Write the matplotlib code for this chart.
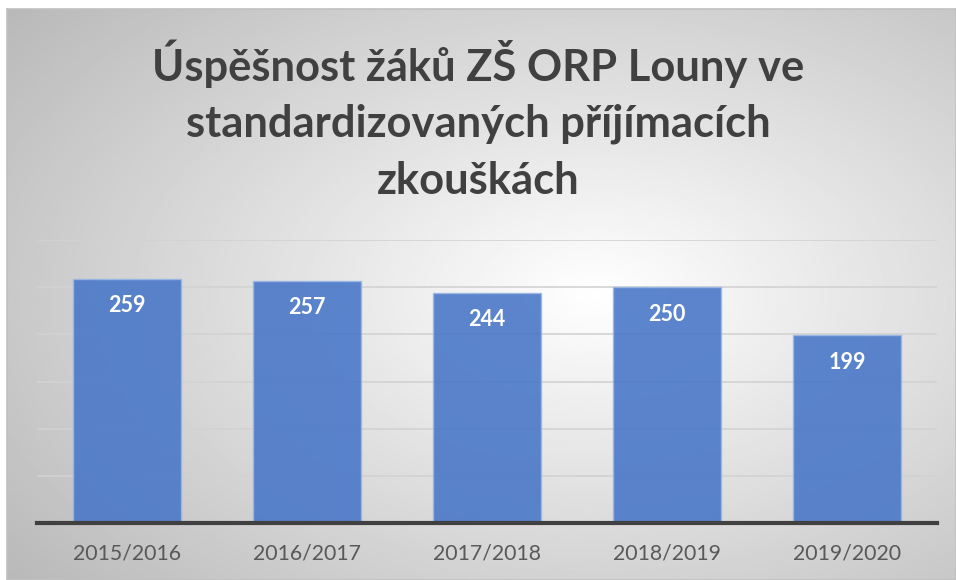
import matplotlib
matplotlib.use("Agg")
import matplotlib.pyplot as plt
import numpy as np

# data
years = ["2015/2016", "2016/2017", "2017/2018", "2018/2019", "2019/2020"]
scores = [259, 257, 244, 250, 199]
title = "Úspěšnost žáků ZŠ ORP Louny ve\nstandardizovaných příjímacích\nzkouškách"

plt.rcParams['font.family'] = ['Lato', 'DejaVu Sans']

fig = plt.figure(figsize=(9.56, 5.8), dpi=100)

# radial gradient background inside a light border
bg = fig.add_axes([7/956, 0, 949/956, 1 - 9/580], zorder=0)
yy, xx = np.mgrid[0:1:300j, 0:1:500j]
r = np.sqrt(((xx - 0.62) / 0.75) ** 2 + ((yy - 0.5) / 0.75) ** 2)
shade = 1.0 - 0.26 * np.clip(r, 0, 1.2)
bg.imshow(shade, cmap="gray", vmin=0, vmax=1, aspect="auto", extent=[0, 1, 0, 1])
bg.set_xticks([])
bg.set_yticks([])
for s in bg.spines.values():
    s.set_color("#c0c0c0")
    s.set_linewidth(1.2)

ax = fig.add_axes([37/956, 1 - 523/580, 900/956, (523 - 240)/580], zorder=1)
ax.patch.set_alpha(0)

x = np.arange(len(years))
bars = ax.bar(x, scores, width=0.6, color="#4a78c8", alpha=0.9,
              edgecolor="#9ab8e6", linewidth=1.0, zorder=3)
for b, v in zip(bars, scores):
    ax.text(b.get_x() + b.get_width() / 2, v - 27 / 0.943, str(v),
            ha="center", va="center", color="white", fontsize=15.5,
            fontweight="bold", zorder=4)

ax.set_xlim(-0.5, len(years) - 0.5)
ax.set_ylim(0, 300)
ax.set_yticks(np.arange(0, 301, 50))
ax.yaxis.grid(True, color="#d2d2d2", linewidth=1.2, zorder=0)
ax.set_yticklabels([])
ax.tick_params(axis="y", length=0)
ax.set_xticks(x)
ax.set_xticklabels(years, fontsize=15.3, color="#595959")
ax.tick_params(axis="x", length=0, pad=15)
for name, s in ax.spines.items():
    s.set_visible(name == "bottom")
ax.spines["bottom"].set_color("#404040")
ax.spines["bottom"].set_linewidth(3)
ax.spines["bottom"].set_zorder(5)

fig.text(0.5, 1 - 120/580, title, ha="center", va="center", fontsize=31.3,
         fontweight="bold", color="#404040", linespacing=1.5)

fig.savefig("out.png", dpi=100)
